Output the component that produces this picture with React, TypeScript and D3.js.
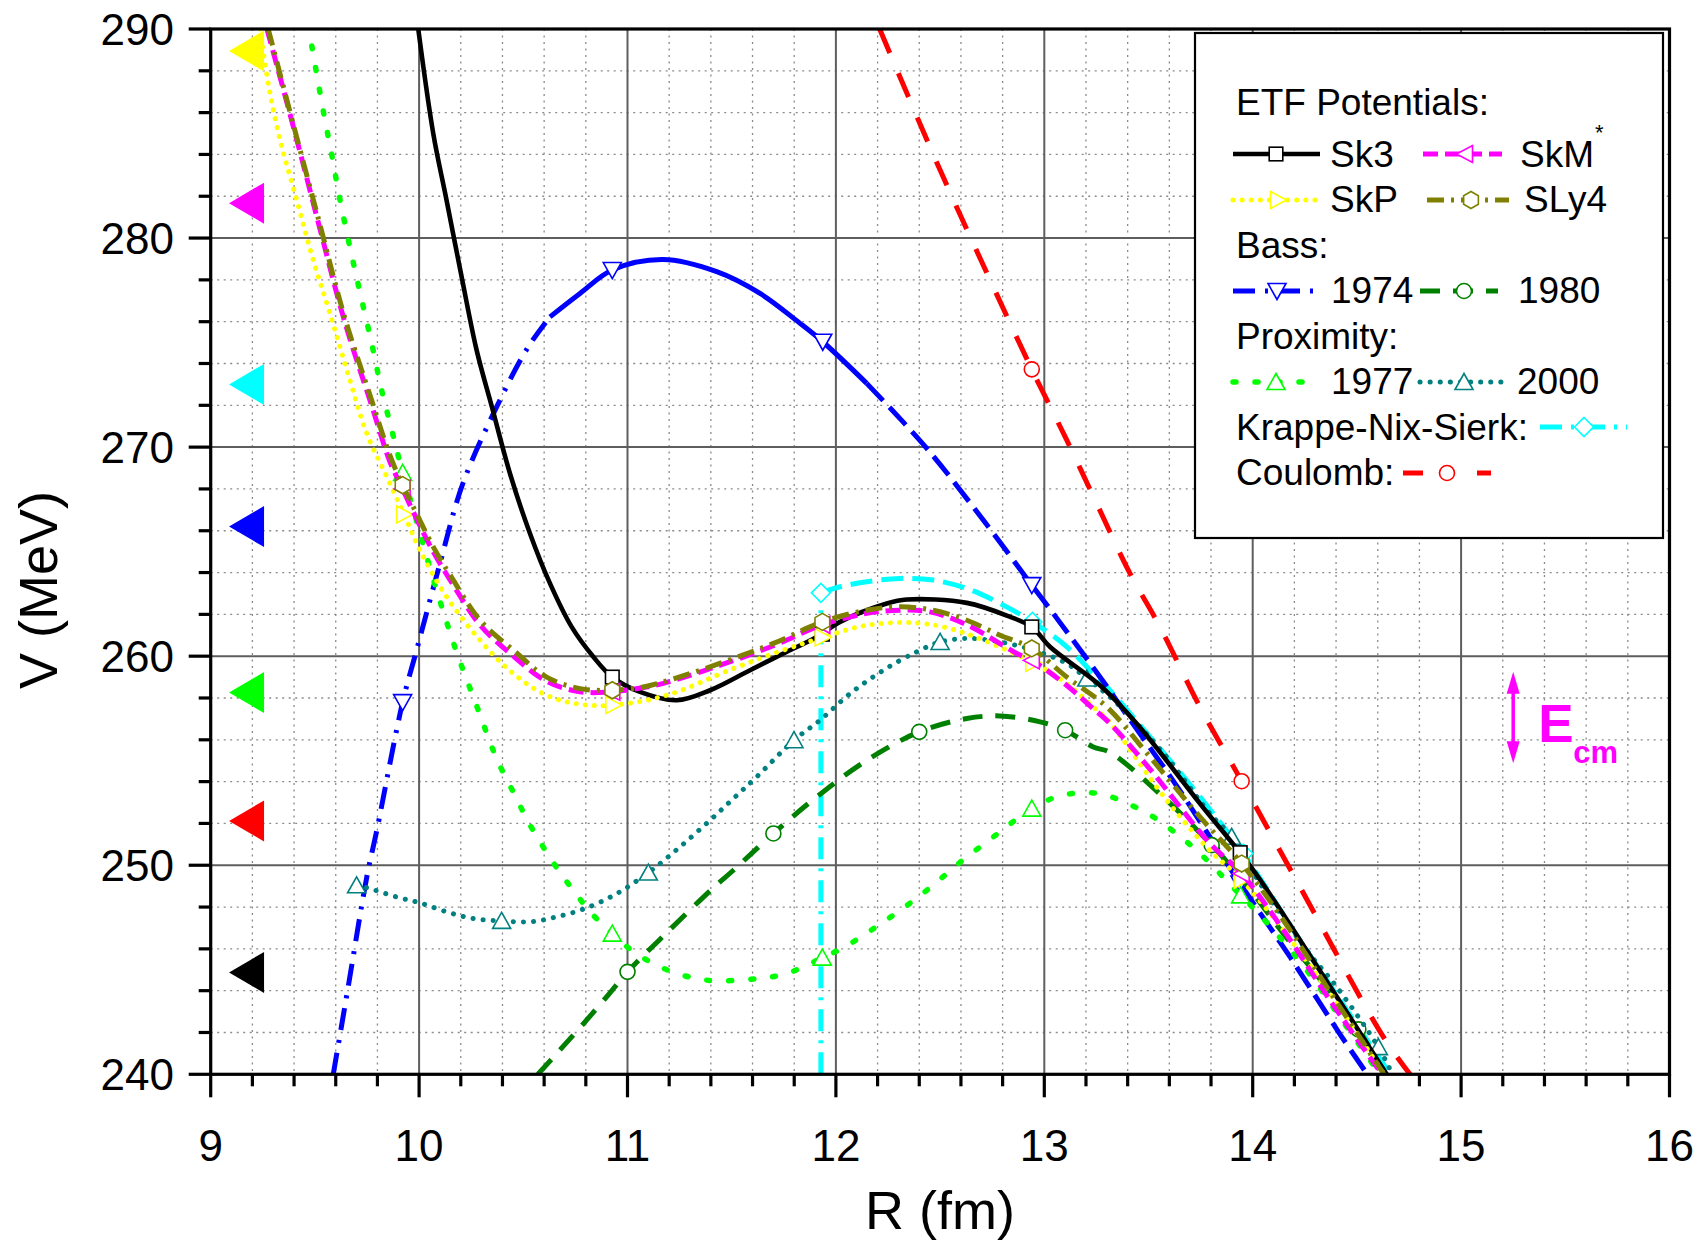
import React from "react";
import * as d3 from "d3";

// ---------- data (R in fm, V in MeV) ----------
const SK3: [number, number][] = [
  [9.996, 290], [10.068, 285.0], [10.132, 281.8], [10.204, 278.15], [10.276, 274.64], [10.35, 271.9],
  [10.436, 268.74], [10.532, 265.87], [10.628, 263.48], [10.732, 261.4], [10.836, 259.97],
  [10.927, 259.0], [11.06, 258.29], [11.236, 257.89], [11.396, 258.37], [11.588, 259.33], [11.748, 260.13],
  [11.908, 260.92], [12.02, 261.64], [12.244, 262.52], [12.34, 262.71], [12.628, 262.55], [12.836, 261.88],
  [12.94, 261.4], [13.027, 260.45], [13.267, 258.61], [13.443, 256.78], [13.747, 252.95], [14.0, 249.8],
  [14.3, 245.3], [14.643, 240],
];
const SKM: [number, number][] = [
  [9.27, 290], [9.4, 285.2], [9.52, 280.6], [9.64, 276.1], [9.772, 272.0], [9.86, 269.3], [9.921, 268.0],
  [9.972, 266.9], [10.068, 265.0], [10.164, 263.4], [10.292, 261.5], [10.452, 260.0], [10.612, 258.8],
  [10.772, 258.3], [10.927, 258.3], [11.076, 258.5], [11.172, 258.7], [11.396, 259.4], [11.7, 260.5],
  [11.935, 261.5], [12.148, 262.05], [12.308, 262.2], [12.45, 262.12], [12.628, 261.5], [12.868, 260.13],
  [12.94, 259.8], [13.108, 258.6], [13.222, 257.6], [13.315, 256.78], [13.507, 254.6], [13.795, 251.04],
  [13.947, 249.6], [14.147, 246.9], [14.387, 243.3], [14.62, 240],
];
const SKP: [number, number][] = [
  [9.237, 290], [9.276, 287.4], [9.333, 284.69], [9.413, 281.82], [9.492, 278.95], [9.572, 276.4],
  [9.668, 273.2], [9.749, 270.65], [9.845, 268.58], [9.928, 266.78], [10.004, 265.07], [10.132, 262.84],
  [10.292, 260.77], [10.452, 259.17], [10.612, 258.13], [10.772, 257.7], [10.932, 257.66], [11.188, 258.13],
  [11.508, 259.41], [11.748, 260.29], [11.937, 260.9], [12.148, 261.48], [12.388, 261.59], [12.548, 261.32],
  [12.707, 260.77], [12.947, 259.68], [13.108, 258.69], [13.235, 257.57], [13.3, 257.0], [13.587, 253.11],
  [13.795, 250.7], [13.947, 249.3], [14.29, 245.0], [14.63, 240],
];
const SLY4: [number, number][] = [
  [9.276, 290], [9.4, 285.3], [9.52, 280.8], [9.64, 276.3], [9.772, 272.25], [9.86, 269.6], [9.921, 268.18],
  [9.972, 267.14], [10.068, 265.23], [10.164, 263.64], [10.292, 261.72], [10.452, 260.29], [10.612, 259.0],
  [10.772, 258.45], [10.927, 258.37], [11.076, 258.53], [11.172, 258.77], [11.396, 259.49], [11.7, 260.61],
  [11.935, 261.64], [12.148, 262.2], [12.308, 262.36], [12.467, 262.2], [12.628, 261.72], [12.788, 261.0],
  [12.94, 260.37], [13.108, 259.0], [13.3, 257.57], [13.507, 255.18], [13.747, 252.31], [13.947, 250.08],
  [14.147, 247.37], [14.387, 243.7], [14.63, 240],
];
const BASS74: [number, number][] = [
  [9.588, 240], [9.66, 244.2], [9.749, 249.44], [9.797, 251.67], [9.921, 257.8], [9.988, 260.29], [10.1, 264.43],
  [10.21, 268.26], [10.388, 272.25], [10.524, 274.8], [10.628, 276.23], [10.772, 277.35], [10.927, 278.47],
  [11.17, 278.97], [11.428, 278.39], [11.636, 277.35], [11.828, 275.92], [11.937, 275.04], [12.148, 273.05],
  [12.436, 269.94], [12.707, 266.51], [12.94, 263.4], [13.043, 262.04], [13.275, 258.9], [13.43, 256.7],
  [13.635, 253.8], [13.939, 249.13], [14.18, 245.6], [14.42, 241.9], [14.55, 240],
];
const BASS80: [number, number][] = [
  [10.57, 240], [10.67, 241.1], [10.79, 242.44], [10.909, 243.81], [11.0, 244.9], [11.183, 246.72],
  [11.415, 248.95], [11.508, 249.76], [11.7, 251.52], [11.908, 253.27], [12.148, 255.02], [12.4, 256.38],
  [12.628, 257.02], [12.788, 257.14], [12.98, 256.86], [13.1, 256.46], [13.235, 255.66], [13.315, 255.4],
  [13.587, 253.11], [13.803, 250.96], [13.939, 249.44], [14.147, 246.73], [14.507, 242.15], [14.63, 240],
];
const PROX77: [number, number][] = [
  [9.485, 289.19], [9.541, 286.04], [9.581, 283.97], [9.62, 281.85], [9.677, 279.15], [9.725, 277.03],
  [9.776, 274.8], [9.82, 272.73], [9.869, 270.81], [9.921, 268.77], [9.996, 266.19], [10.06, 263.96],
  [10.124, 261.88], [10.188, 259.97], [10.284, 257.42], [10.372, 255.1], [10.468, 253.19], [10.524, 252.07],
  [10.652, 250.0], [10.74, 248.8], [10.828, 247.69], [10.927, 246.73], [11.02, 245.93], [11.124, 245.3],
  [11.228, 244.85], [11.332, 244.58], [11.428, 244.47], [11.628, 244.58], [11.732, 244.74], [11.828, 245.06],
  [11.935, 245.58], [12.028, 246.01], [12.132, 246.65], [12.228, 247.29], [12.332, 248.01], [12.436, 248.8],
  [12.532, 249.6], [12.628, 250.4], [12.731, 251.16], [12.827, 251.91], [12.94, 252.71], [13.036, 253.19],
  [13.132, 253.43], [13.235, 253.46], [13.331, 253.24], [13.435, 252.79], [13.536, 252.23], [13.638, 251.48],
  [13.739, 250.64], [13.838, 249.65], [13.942, 248.56], [14.043, 247.53], [14.259, 244.98], [14.435, 242.5],
  [14.61, 240],
];
const PROX00: [number, number][] = [
  [9.7, 249.04], [9.748, 248.93], [9.892, 248.48], [10.004, 248.2], [10.132, 247.77], [10.26, 247.45],
  [10.396, 247.34], [10.532, 247.29], [10.66, 247.53], [10.796, 247.93], [10.948, 248.64], [11.1, 249.65],
  [11.252, 250.88], [11.396, 252.15], [11.508, 253.19], [11.62, 254.23], [11.799, 255.98], [11.924, 256.94],
  [12.068, 258.21], [12.228, 259.33], [12.388, 260.21], [12.5, 260.68], [12.628, 260.85], [12.788, 260.68],
  [12.947, 260.29], [13.108, 259.65], [13.204, 258.93], [13.315, 258.05], [13.459, 256.62], [13.587, 255.18],
  [13.795, 252.47], [13.899, 251.36], [14.035, 249.13], [14.259, 245.93], [14.403, 244.18], [14.603, 241.3],
  [14.67, 240],
];
const KNS_VERT: [number, number][] = [[11.928, 240], [11.928, 263.03]];
const KNS: [number, number][] = [
  [11.928, 263.03], [12.02, 263.32], [12.148, 263.56], [12.308, 263.72], [12.467, 263.64], [12.628, 263.24],
  [12.788, 262.52], [12.943, 261.64], [13.108, 260.45], [13.251, 259.0], [13.3, 258.53], [13.507, 256.14],
  [13.747, 253.27], [13.955, 250.56], [14.227, 246.41], [14.66, 240],
];
const COULOMB: [number, number][] = [
  [12.21, 290], [12.5, 283.25], [12.755, 277.67], [12.94, 273.72], [13.108, 270.33], [13.251, 267.31],
  [13.411, 263.96], [13.555, 261.4], [13.747, 257.57], [13.947, 254.02], [14.227, 248.96], [14.627, 241.79],
  [14.755, 240],
];

// symbol positions
const MK_SK3: [number, number][] = [[10.927, 259.0], [11.935, 261.05], [12.94, 261.4], [13.94, 250.6]];
const MK_SKM: [number, number][] = [[9.921, 268.0], [10.927, 258.3], [11.935, 261.5], [12.94, 259.8], [13.947, 249.6]];
const MK_SKP: [number, number][] = [[9.928, 266.78], [10.932, 257.66], [11.937, 260.9], [12.947, 259.68], [13.947, 249.3]];
const MK_SLY4: [number, number][] = [[9.921, 268.18], [10.927, 258.37], [11.935, 261.64], [12.94, 260.37], [13.947, 250.08]];
const MK_B74: [number, number][] = [[9.921, 257.8], [10.927, 278.47], [11.937, 275.04], [12.94, 263.4], [13.939, 249.13]];
const MK_B80: [number, number][] = [[11.0, 244.9], [11.7, 251.52], [12.4, 256.38], [13.1, 256.46], [13.803, 250.96], [14.507, 242.15]];
const MK_P77: [number, number][] = [[9.921, 268.77], [10.927, 246.73], [11.935, 245.58], [12.94, 252.71], [13.942, 248.56]];
const MK_P00: [number, number][] = [[9.7, 249.04], [10.396, 247.34], [11.1, 249.65], [11.799, 255.98], [12.5, 260.68], [13.204, 258.93], [13.899, 251.36], [14.603, 241.3]];
const MK_KNS: [number, number][] = [[11.928, 263.03], [12.943, 261.64], [13.955, 250.56]];
const MK_COUL: [number, number][] = [[12.94, 273.72], [13.947, 254.02]];

// left-side energy markers
const ECM_LEVELS = [288.95, 281.67, 273.0, 266.2, 258.26, 252.12, 244.87];
const ECM_COLORS = ["#FFFF00", "#FF00FF", "#00FFFF", "#0000FF", "#00FF00", "#FF0000", "#000000"];

const X_TICKS = [9, 10, 11, 12, 13, 14, 15, 16];
const Y_TICKS = [240, 250, 260, 270, 280, 290];

// ---------- layout ----------
const W = 1698, H = 1242;
const X0 = 210.7, X1 = 1669.5, Y0 = 29, Y1 = 1074.3;
const FONT = "'Liberation Sans', Arial, Helvetica, sans-serif";

const x = d3.scaleLinear().domain([9, 16]).range([X0, X1]);
const y = d3.scaleLinear().domain([240, 290]).range([Y1, Y0]);

const smooth = d3.line<[number, number]>().x((d) => x(d[0])).y((d) => y(d[1])).curve(d3.curveCatmullRom.alpha(0.5));
const straight = d3.line<[number, number]>().x((d) => x(d[0])).y((d) => y(d[1]));

type Shape = "square" | "tl" | "tr" | "td" | "tu" | "circle" | "diamond" | "hex";

function Sym({ shape, cx, cy, color, sw = 1.6 }: { shape: Shape; cx: number; cy: number; color: string; sw?: number }) {
  const common = { fill: "#fff", stroke: color, strokeWidth: sw } as any;
  switch (shape) {
    case "square":
      return <rect x={cx - 6.8} y={cy - 6.8} width={13.6} height={13.6} {...common} />;
    case "tl":
      return <polygon points={`${cx - 8.5},${cy} ${cx + 7.5},${cy - 8.5} ${cx + 7.5},${cy + 8.5}`} {...common} />;
    case "tr":
      return <polygon points={`${cx + 8.5},${cy} ${cx - 7.5},${cy - 8.5} ${cx - 7.5},${cy + 8.5}`} {...common} />;
    case "td":
      return <polygon points={`${cx - 9},${cy - 7.5} ${cx + 9},${cy - 7.5} ${cx},${cy + 8.5}`} {...common} />;
    case "tu":
      return <polygon points={`${cx - 9},${cy + 7.5} ${cx + 9},${cy + 7.5} ${cx},${cy - 8.5}`} {...common} />;
    case "circle":
      return <circle cx={cx} cy={cy} r={7.5} {...common} />;
    case "diamond":
      return <polygon points={`${cx},${cy - 9.5} ${cx + 9.5},${cy} ${cx},${cy + 9.5} ${cx - 9.5},${cy}`} {...common} />;
    case "hex": {
      const pts = d3.range(6).map((i) => {
        const a = (Math.PI / 3) * i + Math.PI / 6;
        return `${cx + 8.5 * Math.cos(a)},${cy + 8.5 * Math.sin(a)}`;
      });
      return <polygon points={pts.join(" ")} {...common} />;
    }
  }
  return null;
}

type Series = {
  key: string;
  color: string;
  width: number;
  cap?: "round" | "butt";
  shape: Shape;
  marks: [number, number][];
  legendDash?: string;
  parts: { data: [number, number][]; dash?: string; curve?: "smooth" | "straight" }[];
};

const SERIES: Series[] = [
  { key: "kns", color: "#00FFFF", width: 5, shape: "diamond", marks: MK_KNS, legendDash: "22 9 3 9",
    parts: [{ data: KNS_VERT, dash: "22 9 3 9", curve: "straight" }, { data: KNS, dash: "22 9" }] },
  { key: "coul", color: "#FF0000", width: 5, shape: "circle", marks: MK_COUL, legendDash: "20 54 14",
    parts: [{ data: COULOMB, dash: "26 22" }] },
  { key: "b74", color: "#0000FF", width: 5, shape: "td", marks: MK_B74, legendDash: "22 10 3 10",
    parts: [
      { data: BASS74.filter((d) => d[0] <= 10.63), dash: "22 10 3 10" },
      { data: BASS74.filter((d) => d[0] >= 10.628 && d[0] <= 12.15) },
      { data: BASS74.filter((d) => d[0] >= 12.148), dash: "24 9" },
    ] },
  { key: "b80", color: "#008000", width: 5, shape: "circle", marks: MK_B80, parts: [{ data: BASS80, dash: "20 13" }] },
  { key: "p77", color: "#00FF00", width: 5.5, cap: "round", shape: "tu", marks: MK_P77, parts: [{ data: PROX77, dash: "3 19" }] },
  { key: "p00", color: "#008080", width: 5, cap: "round", shape: "tu", marks: MK_P00, parts: [{ data: PROX00, dash: "0.1 10" }] },
  { key: "sk3", color: "#000000", width: 4.6, shape: "square", marks: MK_SK3, parts: [{ data: SK3 }] },
  { key: "skp", color: "#FFFF00", width: 5, cap: "round", shape: "tr", marks: MK_SKP, parts: [{ data: SKP, dash: "0.1 9" }] },
  { key: "skm", color: "#FF00FF", width: 5, shape: "tl", marks: MK_SKM, parts: [{ data: SKM, dash: "15 7" }] },
  { key: "sly4", color: "#808000", width: 5, shape: "hex", marks: MK_SLY4, parts: [{ data: SLY4, dash: "17 7 3 7" }] },
];

const byKey = (k: string) => SERIES.find((s) => s.key === k)!;

function LegendSample({ k, x1, x2, yy, mx }: { k: string; x1: number; x2: number; yy: number; mx: number }) {
  const s = byKey(k);
  const dash = s.legendDash ?? s.parts[0].dash;
  return (
    <g>
      <line x1={x1} x2={x2} y1={yy} y2={yy} stroke={s.color} strokeWidth={s.width} strokeDasharray={dash}
        strokeLinecap={s.cap || "butt"} />
      <Sym shape={s.shape} cx={mx} cy={yy} color={s.color} />
    </g>
  );
}

export default function App() {
  const minorX = d3.range(9.2, 16, 0.2).filter((v) => Math.abs(v - Math.round(v)) > 0.05);
  const minorY = d3.range(242, 290, 2).filter((v) => v % 10 !== 0);
  const majorX = [10, 11, 12, 13, 14, 15];
  const majorY = [250, 260, 270, 280];

  const arrowX = x(15.25);
  const aTop = y(259.25), aBot = y(254.88);

  return (
    <svg width={W} height={H} style={{ position: "absolute", left: 0, top: 0, display: "block" }} fontFamily={FONT}>
      <rect x={0} y={0} width={W} height={H} fill="#fff" />
      <defs>
        <clipPath id="plot">
          <rect x={X0} y={Y0} width={X1 - X0} height={Y1 - Y0} />
        </clipPath>
      </defs>

      {/* grid */}
      <g stroke="#8a8a8a" strokeWidth={1.3} strokeDasharray="2 4.5">
        {minorX.map((v) => <line key={"mx" + v} x1={x(v)} x2={x(v)} y1={Y0} y2={Y1} />)}
        {minorY.map((v) => <line key={"my" + v} x1={X0} x2={X1} y1={y(v)} y2={y(v)} />)}
      </g>
      <g stroke="#5e5e5e" strokeWidth={2}>
        {majorX.map((v) => <line key={"Mx" + v} x1={x(v)} x2={x(v)} y1={Y0} y2={Y1} />)}
        {majorY.map((v) => <line key={"My" + v} x1={X0} x2={X1} y1={y(v)} y2={y(v)} />)}
      </g>

      {/* curves */}
      <g clipPath="url(#plot)" fill="none">
        {SERIES.map((s) => (
          <g key={s.key}>
            {s.parts.map((p, i) => (
              <path key={i} d={(p.curve === "straight" ? straight : smooth)(p.data) || ""} stroke={s.color}
                strokeWidth={s.width} strokeDasharray={p.dash} strokeLinecap={s.cap || "butt"} strokeLinejoin="round" />
            ))}
            {s.marks.map((m, i) => <Sym key={"m" + i} shape={s.shape} cx={x(m[0])} cy={y(m[1])} color={s.color} />)}
          </g>
        ))}
      </g>

      {/* left E_cm triangles */}
      {ECM_LEVELS.map((v, i) => {
        const cx = x(9.172), cy = y(v);
        return <polygon key={"e" + i} points={`${cx - 17.5},${cy} ${cx + 17.5},${cy - 20.5} ${cx + 17.5},${cy + 20.5}`} fill={ECM_COLORS[i]} />;
      })}

      {/* axes frame */}
      <rect x={X0} y={Y0} width={X1 - X0} height={Y1 - Y0} fill="none" stroke="#000" strokeWidth={3.2} />
      <g stroke="#000" strokeWidth={3.2}>
        {Y_TICKS.map((v) => <line key={"yt" + v} x1={X0 - 22} x2={X0} y1={y(v)} y2={y(v)} />)}
        {minorY.map((v) => <line key={"ymt" + v} x1={X0 - 12} x2={X0} y1={y(v)} y2={y(v)} />)}
        {X_TICKS.map((v) => <line key={"xt" + v} x1={x(v)} x2={x(v)} y1={Y1} y2={Y1 + 23} />)}
        {minorX.map((v) => <line key={"xmt" + v} x1={x(v)} x2={x(v)} y1={Y1} y2={Y1 + 12} />)}
      </g>
      <g fontSize={44} fill="#000">
        {Y_TICKS.map((v) => <text key={"yl" + v} x={174} y={y(v) + 15.5} textAnchor="end">{v}</text>)}
        {X_TICKS.map((v) => <text key={"xl" + v} x={x(v)} y={1161} textAnchor="middle">{v}</text>)}
      </g>
      <text x={(X0 + X1) / 2} y={1229} fontSize={54} textAnchor="middle">R (fm)</text>
      <text transform={`translate(57,590) rotate(-90)`} fontSize={54} textAnchor="middle">V (MeV)</text>

      {/* E_cm annotation */}
      <g fill="#FF00FF" stroke="none">
        <line x1={arrowX} x2={arrowX} y1={aTop + 15} y2={aBot - 15} stroke="#FF00FF" strokeWidth={3.5} />
        <polygon points={`${arrowX},${aTop} ${arrowX - 6.5},${aTop + 22} ${arrowX + 6.5},${aTop + 22}`} />
        <polygon points={`${arrowX},${aBot} ${arrowX - 6.5},${aBot - 22} ${arrowX + 6.5},${aBot - 22}`} />
        <text x={x(15.37)} y={y(255.9)} fontSize={53} fontWeight="bold">E</text>
        <text x={x(15.375) + 34} y={y(254.87)} fontSize={31} fontWeight="bold">cm</text>
      </g>

      {/* legend */}
      <rect x={1195} y={33} width={468} height={505} fill="#fff" stroke="#000" strokeWidth={2.2} />
      <g fontSize={37} fill="#000">
        <text x={1236} y={115}>ETF Potentials:</text>
        <LegendSample k="sk3" x1={1233} x2={1320} yy={154} mx={1276} />
        <text x={1330} y={167}>Sk3</text>
        <LegendSample k="skm" x1={1423} x2={1502} yy={154} mx={1465} />
        <text x={1520} y={167}>SkM</text>
        <text x={1595} y={140} fontSize={22}>*</text>
        <LegendSample k="skp" x1={1233} x2={1316} yy={200} mx={1278} />
        <text x={1330} y={212}>SkP</text>
        <LegendSample k="sly4" x1={1427} x2={1509} yy={200} mx={1471} />
        <text x={1524} y={212}>SLy4</text>
        <text x={1236} y={258}>Bass:</text>
        <LegendSample k="b74" x1={1233} x2={1316} yy={291} mx={1277} />
        <text x={1331} y={303}>1974</text>
        <LegendSample k="b80" x1={1420} x2={1498} yy={291} mx={1464} />
        <text x={1518} y={303}>1980</text>
        <text x={1236} y={349}>Proximity:</text>
        <LegendSample k="p77" x1={1233} x2={1305} yy={382} mx={1276} />
        <text x={1331} y={394}>1977</text>
        <LegendSample k="p00" x1={1420} x2={1503} yy={382} mx={1464} />
        <text x={1517} y={394}>2000</text>
        <text x={1236} y={440}>Krappe-Nix-Sierk:</text>
        <LegendSample k="kns" x1={1540} x2={1627} yy={427} mx={1584} />
        <text x={1236} y={485}>Coulomb:</text>
        <LegendSample k="coul" x1={1403} x2={1491} yy={473} mx={1447} />
      </g>
    </svg>
  );
}
